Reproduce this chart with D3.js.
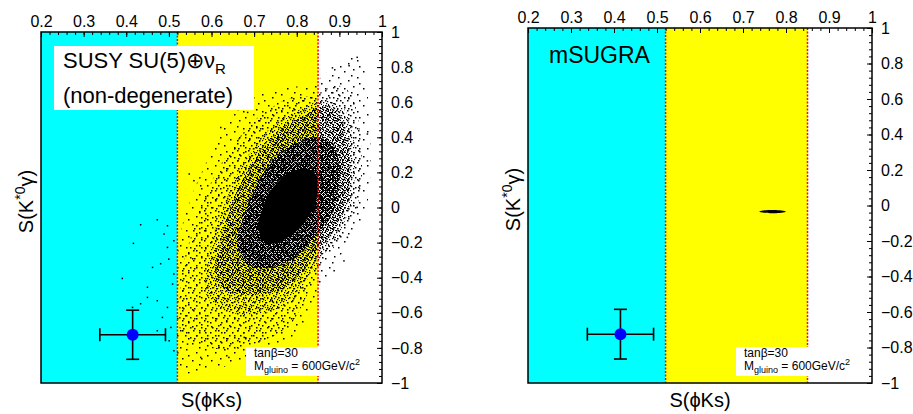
<!DOCTYPE html>
<html>
<head>
<meta charset="utf-8">
<script src="https://cdn.jsdelivr.net/npm/d3@7"></script>
<style>
  body { margin: 0; background: #fff; }
  svg { display: block; font-family: "Liberation Sans", Arial, sans-serif; }
</style>
</head>
<body>
<svg id="chart" width="913" height="414"></svg>
<script>
const xTicks = [0.2, 0.3, 0.4, 0.5, 0.6, 0.7, 0.8, 0.9, 1];
const yTicks = [1, 0.8, 0.6, 0.4, 0.2, 0, -0.2, -0.4, -0.6, -0.8, -1];
const cyanBand = [0.2, 0.52];
const yellowBand = [0.52, 0.85];

// measured S(phiKs), S(K*0 gamma) and errors
const measured = [0.415, -0.725];
const measuredErr = [0.077, 0.14];

// density outlines of the SU(5)+nuR scatter (outer -> inner)
const cloudSparse = [[0.521,-0.897],[0.521,-0.242],[0.550,0.043],[0.585,0.242],[0.632,0.470],[0.690,0.613],[0.761,0.681],[0.831,0.698],[0.878,0.783],[0.925,0.869],[0.960,0.783],[0.972,0.442],[0.972,0.157],[0.960,-0.043],[0.925,-0.185],[0.890,-0.328],[0.850,-0.470],[0.808,-0.698],[0.737,-0.812],[0.643,-0.897],[0.573,-0.937]];
const cloudMedium = [[0.526,-0.698],[0.531,-0.356],[0.561,-0.100],[0.596,0.128],[0.643,0.328],[0.702,0.499],[0.772,0.613],[0.843,0.641],[0.890,0.698],[0.930,0.641],[0.948,0.442],[0.953,0.185],[0.937,-0.043],[0.901,-0.185],[0.855,-0.328],[0.819,-0.527],[0.784,-0.670],[0.726,-0.755],[0.643,-0.812],[0.573,-0.783]];
const cloudThick = [[0.585,-0.470],[0.601,-0.185],[0.639,0.071],[0.679,0.271],[0.733,0.442],[0.796,0.544],[0.859,0.613],[0.913,0.556],[0.937,0.328],[0.930,0.043],[0.897,-0.157],[0.850,-0.311],[0.808,-0.470],[0.749,-0.584],[0.679,-0.613],[0.615,-0.573]];
const cloudDense = [[0.608,-0.356],[0.632,-0.100],[0.667,0.128],[0.709,0.299],[0.761,0.442],[0.819,0.527],[0.866,0.584],[0.906,0.499],[0.925,0.271],[0.920,0.043],[0.890,-0.128],[0.850,-0.242],[0.808,-0.385],[0.761,-0.470],[0.690,-0.499],[0.632,-0.470]];
const cloudDenser = [[0.660,-0.200],[0.685,0.020],[0.722,0.200],[0.772,0.330],[0.835,0.400],[0.885,0.360],[0.902,0.200],[0.886,-0.014],[0.843,-0.165],[0.796,-0.285],[0.737,-0.345],[0.685,-0.325]];
const cloudCore = [[0.709,-0.100],[0.733,0.071],[0.772,0.185],[0.819,0.225],[0.850,0.168],[0.843,0.014],[0.808,-0.117],[0.761,-0.197],[0.726,-0.202]];
const strayPoints = [[0.432,-0.094],[0.415,-0.20],[0.389,-0.40],[0.471,-0.066],[0.487,-0.147],[0.495,-0.223],[0.46,-0.337],[0.479,-0.316],[0.498,-0.29],[0.448,-0.508],[0.471,-0.527],[0.495,-0.565],[0.432,-0.544],[0.413,-0.565],[0.483,-0.622],[0.503,-0.679],[0.499,-0.755],[0.51,-0.812],[0.471,-0.698],[0.448,-0.45],[0.507,-0.432],[0.51,-0.375],[0.51,-0.185],[0.495,-0.10],[0.546,0.195],[0.557,0.157],[0.573,0.128],[0.62,0.46],[0.683,0.546],[0.94,0.86],[0.921,0.812],[0.882,0.80],[0.964,0.423],[0.964,0.27],[0.944,0.119],[0.886,-0.356],[0.909,-0.30],[0.94,0.005],[0.917,-0.166],[0.639,-0.85],[0.616,-0.793],[0.573,-0.85],[0.542,-0.774],[0.675,-0.736]];

// mSUGRA prediction, a thin blob
const msugraBlob = [[0.738,-0.035],[0.75,-0.027],[0.77,-0.025],[0.79,-0.028],[0.80,-0.035],[0.79,-0.041],[0.77,-0.044],[0.75,-0.041]];

const svg = d3.select("#chart");
const defs = svg.append("defs");

// dot textures for the scatter density levels
const textures = [
  { id: "dots1", w: 19, h: 17, size: 1.5, dots: [[2, 3], [11, 1], [15, 9], [6, 12], [17, 15], [9, 7]] },
  { id: "dots2", w: 11, h: 10, size: 1.5, dots: [[1, 2], [6, 0], [9, 5], [3, 7], [7, 8]] },
  { id: "dots3", w: 7, h: 7, size: 1.2, dots: [[0, 1], [3, 0], [5, 3], [1, 4], [4, 5], [6, 6]] },
  { id: "dots4", w: 5, h: 5, size: 1, dots: [[0, 0], [2, 1], [4, 2], [1, 3], [3, 4], [3, 0], [0, 2], [2, 4]] },
  { id: "dots5", w: 4, h: 4, size: 1, dots: [[0, 0], [1, 1], [2, 0], [3, 2], [1, 3], [0, 2], [2, 2], [3, 3], [1, 0]] },
];
textures.forEach((t) => {
  const p = defs
    .append("pattern")
    .attr("id", t.id)
    .attr("patternUnits", "userSpaceOnUse")
    .attr("width", t.w)
    .attr("height", t.h);
  p.selectAll("rect")
    .data(t.dots)
    .join("rect")
    .attr("x", (d) => d[0])
    .attr("y", (d) => d[1])
    .attr("width", t.size)
    .attr("height", t.size)
    .attr("fill", "#000");
});

function drawPanel(p) {
  const x = d3.scaleLinear().domain([0.2, 1]).range([p.left, p.right]);
  const y = d3.scaleLinear().domain([-1, 1]).range([p.bottom, p.top]);
  const g = svg.append("g");

  g.append("clipPath")
    .attr("id", p.id + "-clip")
    .append("rect")
    .attr("x", p.left)
    .attr("y", p.top)
    .attr("width", p.right - p.left)
    .attr("height", p.bottom - p.top);

  // bands
  g.append("rect")
    .attr("x", x(cyanBand[0]))
    .attr("y", p.top)
    .attr("width", x(cyanBand[1]) - x(cyanBand[0]))
    .attr("height", p.bottom - p.top)
    .attr("fill", "#00ffff");
  g.append("rect")
    .attr("x", x(yellowBand[0]))
    .attr("y", p.top)
    .attr("width", x(yellowBand[1]) - x(yellowBand[0]))
    .attr("height", p.bottom - p.top)
    .attr("fill", "#ffff00");

  const plot = g.append("g").attr("clip-path", `url(#${p.id}-clip)`);
  const outline = d3
    .line()
    .x((d) => x(d[0]))
    .y((d) => y(d[1]))
    .curve(d3.curveCardinalClosed.tension(0.3));

  if (p.cloud) {
    const levels = [
      [cloudSparse, "url(#dots1)"],
      [cloudMedium, "url(#dots2)"],
      [cloudThick, "url(#dots3)"],
      [cloudDense, "url(#dots4)"],
      [cloudDenser, "url(#dots5)"],
      [cloudCore, "#000"],
    ];
    levels.forEach(([pts, fill]) => {
      plot.append("path").attr("d", outline(pts)).attr("fill", fill);
    });
    plot
      .selectAll("rect.stray")
      .data(strayPoints)
      .join("rect")
      .attr("class", "stray")
      .attr("x", (d) => x(d[0]))
      .attr("y", (d) => y(d[1]))
      .attr("width", 1.5)
      .attr("height", 1.5)
      .attr("fill", "#000");
  } else {
    plot.append("path").attr("d", outline(msugraBlob)).attr("fill", "#000");
  }

  // band edges
  g.selectAll("line.edge")
    .data([cyanBand[1], yellowBand[1]])
    .join("line")
    .attr("class", "edge")
    .attr("x1", (d) => x(d))
    .attr("x2", (d) => x(d))
    .attr("y1", p.top)
    .attr("y2", p.bottom)
    .attr("stroke", "#ff0000")
    .attr("stroke-width", 1.5)
    .attr("stroke-dasharray", "2,1.5");

  // measurement with error bars
  const m = g.append("g").attr("stroke", "#000").attr("stroke-width", 1.6);
  m.append("line")
    .attr("x1", x(measured[0] - measuredErr[0]))
    .attr("x2", x(measured[0] + measuredErr[0]))
    .attr("y1", y(measured[1]))
    .attr("y2", y(measured[1]));
  m.append("line")
    .attr("x1", x(measured[0]))
    .attr("x2", x(measured[0]))
    .attr("y1", y(measured[1] - measuredErr[1]))
    .attr("y2", y(measured[1] + measuredErr[1]));
  [-1, 1].forEach((s) => {
    const ex = x(measured[0] + s * measuredErr[0]);
    const ey = y(measured[1] + s * measuredErr[1]);
    m.append("line").attr("x1", ex).attr("x2", ex)
      .attr("y1", y(measured[1]) - 6.5).attr("y2", y(measured[1]) + 6.5);
    m.append("line").attr("y1", ey).attr("y2", ey)
      .attr("x1", x(measured[0]) - 6.5).attr("x2", x(measured[0]) + 6.5);
  });
  g.append("circle")
    .attr("cx", x(measured[0]))
    .attr("cy", y(measured[1]))
    .attr("r", 6)
    .attr("fill", "#0000ff");

  // title box
  if (p.cloud) {
    g.append("rect")
      .attr("x", p.left + 13).attr("y", p.top + 14)
      .attr("width", 200).attr("height", 64)
      .attr("fill", "#fff");
    const t1 = g.append("text")
      .attr("x", p.left + 22).attr("y", p.top + 36)
      .style("font-size", "22px");
    t1.append("tspan").text("SUSY SU(5)\u2295\u03bd");
    t1.append("tspan").attr("dy", 6).style("font-size", "15px").text("R");
    g.append("text")
      .attr("x", p.left + 22).attr("y", p.top + 71)
      .style("font-size", "22px")
      .text("(non-degenerate)");
  } else {
    g.append("text")
      .attr("x", p.left + 21).attr("y", p.top + 35)
      .style("font-size", "23px")
      .text("mSUGRA");
  }

  // parameter box
  const bx = p.right - 136;
  const by = p.bottom - 36;
  g.append("rect")
    .attr("x", bx).attr("y", by)
    .attr("width", 127).attr("height", 29)
    .attr("fill", "#fff");
  g.append("text")
    .attr("x", bx + 8).attr("y", by + 10)
    .style("font-size", "12px")
    .text("tan\u03b2=30");
  const t2 = g.append("text")
    .attr("x", bx + 8).attr("y", by + 23)
    .style("font-size", "12px");
  t2.append("tspan").text("M");
  t2.append("tspan").attr("dy", 3).style("font-size", "9px").text("gluino");
  t2.append("tspan").attr("dy", -3).text(" = 600GeV/c");
  t2.append("tspan").attr("dy", -5).style("font-size", "9px").text("2");

  // axes
  const xMinor = d3.range(0.2, 1.0001, 0.02);
  const yMinor = d3.range(-1, 1.0001, 0.04);
  g.append("g")
    .attr("transform", `translate(0,${p.top})`)
    .call(d3.axisTop(x).tickValues(xMinor).tickSize(-3).tickFormat(""))
    .call((a) => a.select(".domain").remove());
  g.append("g")
    .attr("transform", `translate(0,${p.top})`)
    .call(d3.axisTop(x).tickValues(xTicks).tickSize(-5).tickPadding(5).tickFormat(d3.format("")))
    .call((a) => a.select(".domain").remove())
    .call((a) => a.selectAll("text").style("font-size", "16px").attr("font-family", null));
  g.append("g")
    .attr("transform", `translate(${p.right},0)`)
    .call(d3.axisRight(y).tickValues(yMinor).tickSize(-3).tickFormat(""))
    .call((a) => a.select(".domain").remove());
  g.append("g")
    .attr("transform", `translate(${p.right},0)`)
    .call(d3.axisRight(y).tickValues(yTicks).tickSize(-5).tickPadding(9).tickFormat(d3.format("")))
    .call((a) => a.select(".domain").remove())
    .call((a) => a.selectAll("text").style("font-size", "16px").attr("font-family", null));
  g.selectAll(".tick line").attr("stroke", "#000");
  g.selectAll(".tick text").attr("fill", "#000");

  // frame
  g.append("rect")
    .attr("x", p.left).attr("y", p.top)
    .attr("width", p.right - p.left).attr("height", p.bottom - p.top)
    .attr("fill", "none")
    .attr("stroke", "#000")
    .attr("stroke-width", 1.5);

  // axis titles
  g.append("text")
    .attr("x", (p.left + p.right) / 2)
    .attr("y", 407)
    .attr("text-anchor", "middle")
    .style("font-size", "20px")
    .text("S(\u03d5Ks)");
  const yt = g.append("text")
    .attr("transform", `translate(${p.left - 8},${(p.top + p.bottom) / 2 - 6}) rotate(-90)`)
    .attr("text-anchor", "middle")
    .style("font-size", "20px");
  yt.append("tspan").text("S(K");
  yt.append("tspan").attr("dy", -8).style("font-size", "14px").text("*0");
  yt.append("tspan").attr("dy", 8).text("\u03b3)");
}

drawPanel({ id: "susy", left: 41, right: 382, top: 32, bottom: 383, cloud: true });
drawPanel({ id: "msugra", left: 528, right: 872, top: 28, bottom: 383, cloud: false });
</script>
</body>
</html>
